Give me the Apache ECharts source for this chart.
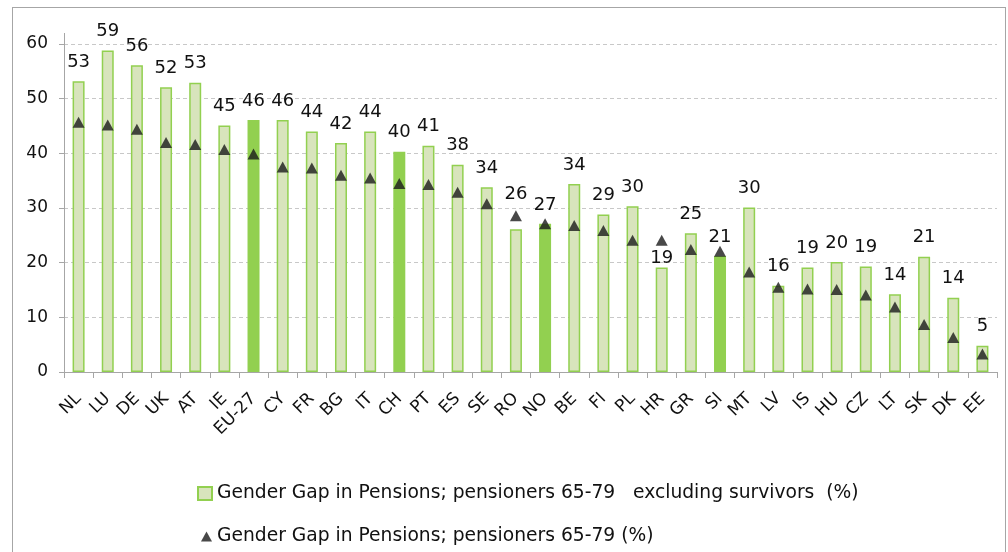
<!DOCTYPE html>
<html>
<head>
<meta charset="utf-8">
<script src="https://cdn.jsdelivr.net/npm/echarts@6/dist/echarts.min.js"></script>
<style>
  html, body { margin: 0; padding: 0; background: #ffffff; }
  #chart { position: absolute; left: 0; top: 0; width: 1008px; height: 552px; }
  .frame { position: absolute; left: 12px; top: 7px; width: 992px; height: 600px; border: 1px solid #a6a6a6; pointer-events: none; }
</style>
</head>
<body>
<div id="chart"></div>
<div class="frame"></div>
<script>
// countries, in the order of the chart
var categories = ['NL', 'LU', 'DE', 'UK', 'AT', 'IE', 'EU-27', 'CY', 'FR', 'BG', 'IT', 'CH', 'PT', 'ES', 'SE', 'RO',
  'NO', 'BE', 'FI', 'PL', 'HR', 'GR', 'SI', 'MT', 'LV', 'IS', 'HU', 'CZ', 'LT', 'SK', 'DK', 'EE']
// gap excluding survivors (bars)
var gapExclSurvivors = [53.2, 58.8, 56.1, 52.1, 52.9, 45.1, 46.1, 46.1, 44.0, 41.9, 44.0, 40.3, 41.4, 37.9, 33.8, 26.1,
  27.1, 34.4, 28.8, 30.3, 19.1, 25.4, 21.2, 30.1, 15.8, 19.1, 20.1, 19.3, 14.2, 21.1, 13.6, 4.8]
// gap all pensioners (triangles)
var gapAll = [45.7, 45.2, 44.4, 42.0, 41.6, 40.7, 39.9, 37.5, 37.3, 36.0, 35.5, 34.5, 34.3, 32.9, 30.8, 28.6,
  27.1, 26.8, 25.9, 24.1, 24.1, 22.4, 22.1, 18.3, 15.5, 15.2, 15.1, 14.1, 11.9, 8.7, 6.3, 3.3]
// bars drawn in full green
var highlighted = ['EU-27', 'CH', 'NO', 'SI']
var yTicks = [0, 10, 20, 30, 40, 50, 60]

var barName = 'Gender Gap in Pensions; pensioners 65-79   excluding survivors  (%)'
var markName = 'Gender Gap in Pensions; pensioners 65-79 (%)'

var gridTop = 44
var gridBottom = 180
var pxPerUnit = (552 - gridTop - gridBottom) / yTicks[yTicks.length - 1]

var barData = []
for (var i = 0; i < categories.length; i++) {
  var item = { value: gapExclSurvivors[i] }
  if (highlighted.indexOf(categories[i]) >= 0) {
    item.itemStyle = { color: '#92d050', borderColor: '#92d050' }
  }
  // move the label when the triangle sits above the bar
  var diff = gapAll[i] - gapExclSurvivors[i]
  if (diff > 4) {
    item.label = { distance: 0 }
  } else if (diff > 2) {
    item.label = { distance: diff * pxPerUnit + 12 }
  }
  barData.push(item)
}

var font = 'DejaVu Sans'
var ink = '#111111'
var chart = echarts.init(document.getElementById('chart'))
chart.setOption({
  animation: false,
  textStyle: { fontFamily: font },
  grid: { left: 64, right: 11, top: gridTop, bottom: gridBottom },
  legend: [
    {
      left: 197,
      top: 484,
      padding: 0,
      itemWidth: 14,
      itemHeight: 13,
      textStyle: { fontFamily: font, fontSize: 18.7, color: ink },
      data: [{ name: barName, icon: 'rect' }]
    },
    {
      left: 201,
      top: 527,
      padding: 0,
      itemWidth: 11,
      itemHeight: 10,
      textStyle: { fontFamily: font, fontSize: 18.7, color: ink },
      data: [{ name: markName, icon: 'triangle' }]
    }
  ],
  xAxis: {
    type: 'category',
    data: categories,
    axisLine: { lineStyle: { color: '#a6a6a6', width: 1 } },
    axisTick: { show: true, length: 6, lineStyle: { color: '#a6a6a6' } },
    axisLabel: { rotate: 45, interval: 0, margin: 24, fontSize: 17, color: ink, fontFamily: font }
  },
  yAxis: {
    type: 'value',
    min: yTicks[0],
    max: yTicks[yTicks.length - 1],
    interval: 10,
    axisLine: { show: true, lineStyle: { color: '#a6a6a6', width: 1 } },
    axisTick: { show: true, length: 5, lineStyle: { color: '#a6a6a6' } },
    axisLabel: { margin: 16, fontSize: 17, color: ink, fontFamily: font },
    splitLine: { lineStyle: { color: '#c8c8c8', type: [4, 3] } }
  },
  graphic: [{
    type: 'line',
    shape: { x1: 64.5, y1: 33, x2: 64.5, y2: gridTop },
    style: { stroke: '#a6a6a6', lineWidth: 1 }
  }],
  series: [
    {
      name: barName,
      type: 'bar',
      data: barData,
      barWidth: 12,
      itemStyle: { color: '#d8e4bc', borderColor: '#92d050', borderWidth: 1.5 },
      label: {
        show: true,
        position: 'top',
        distance: 10,
        fontSize: 18,
        color: ink,
        fontFamily: font,
        formatter: function (p) { return Math.round(p.value) }
      }
    },
    {
      name: markName,
      type: 'scatter',
      data: gapAll,
      symbol: 'triangle',
      symbolSize: [12, 11],
      itemStyle: { color: '#1a1a1a' },
      z: 5
    }
  ]
})
</script>
</body>
</html>
